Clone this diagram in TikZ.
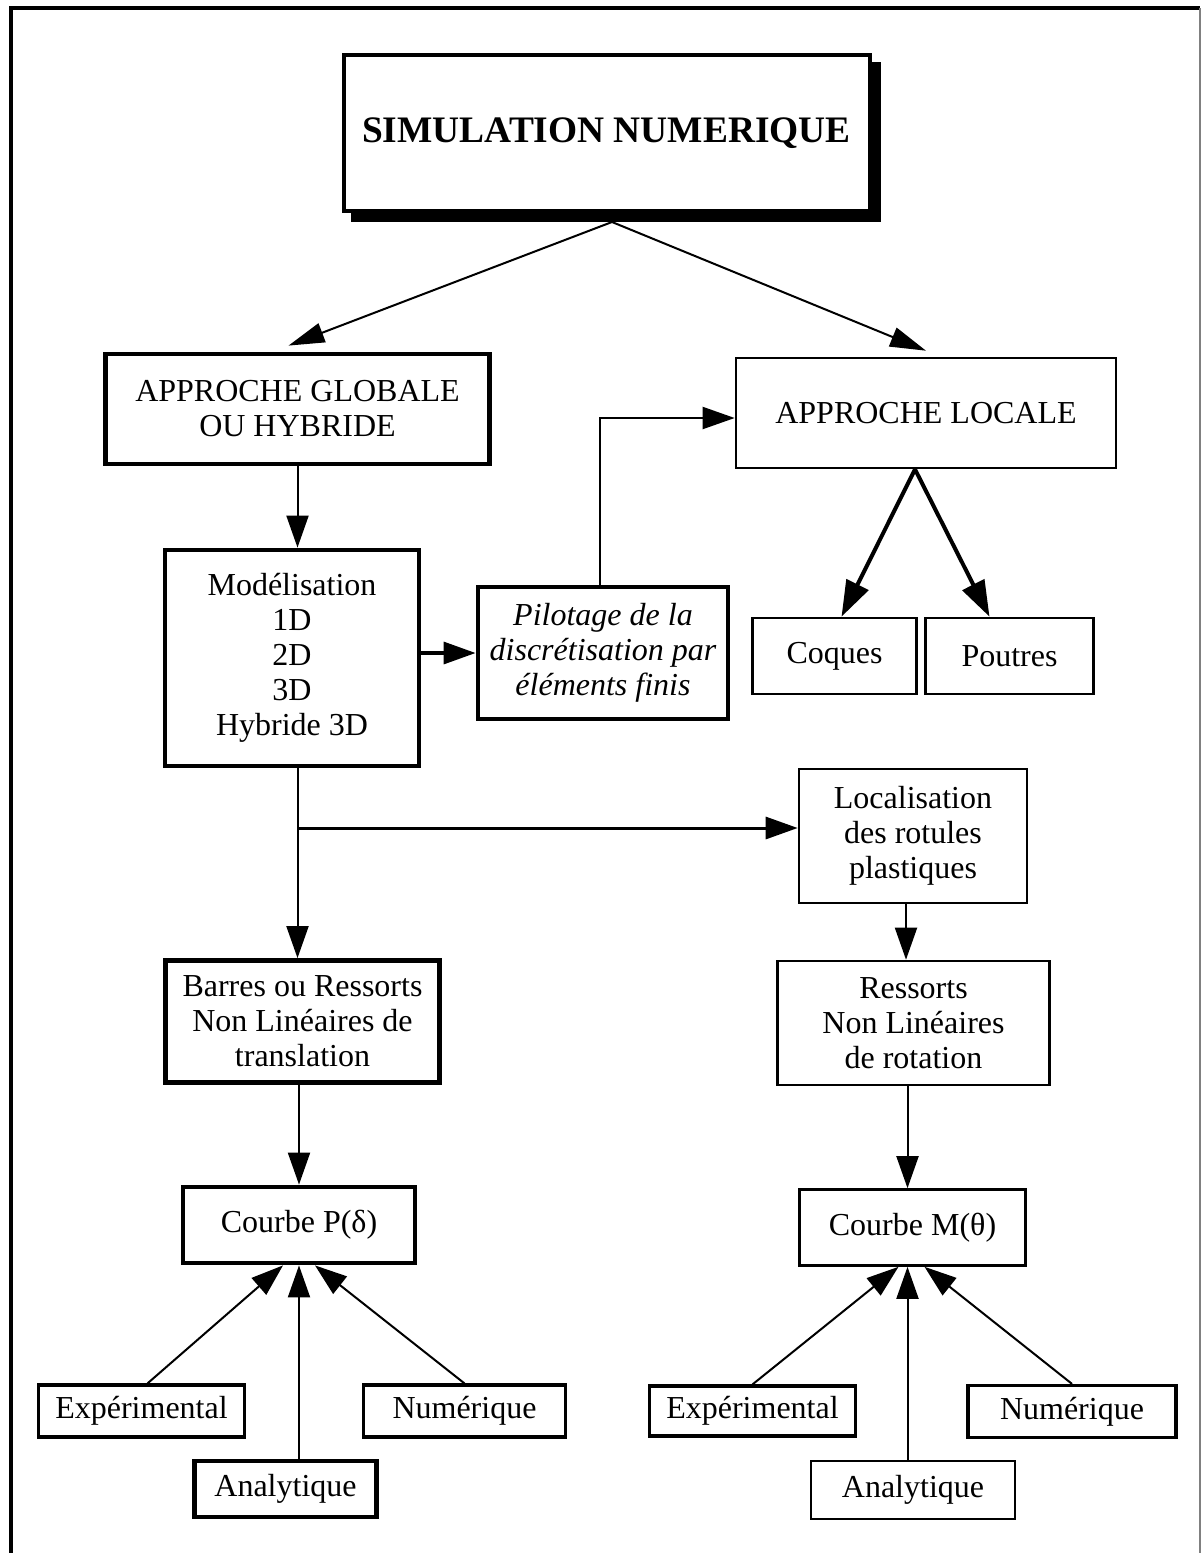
\documentclass[tikz,border=0pt]{standalone}
\usepackage{fontspec}
\setmainfont{Liberation Serif}
\usetikzlibrary{arrows.meta,backgrounds}
\begin{document}
\begin{tikzpicture}[x=0.5pt,y=-0.5pt,
  box/.style={draw, rectangle, fill=white, inner sep=0pt, align=center,
    font=\fontsize{16}{17.5}\selectfont},
  heavybox/.style={box, line width=2.4pt},
  lightbox/.style={box, line width=1.3pt},
  midbox/.style={box, line width=1.6pt},
  tip/.style={-{Triangle[length=16pt,width=11pt]}},
  conn/.style={line width=1pt, tip},
]
\useasboundingbox (0,0) rectangle (1202,1553);

% outer frame
\draw[line width=2pt] (11,1553) -- (11,8) -- (1200,8);
\draw[line width=0.7pt, gray] (1200,8) -- (1200,1553);

% title box with shadow
\node[box, line width=2pt, minimum width=263pt, minimum height=78pt,
  font=\fontsize{18.7}{20}\selectfont\bfseries] (sim) at (606.5,133) {SIMULATION NUMERIQUE};
\begin{scope}[on background layer]
  \fill ([shift={(9,9)}]sim.south west) rectangle ([shift={(9,9)}]sim.north east);
\end{scope}
\coordinate (simb) at (612,222);

\node[heavybox, minimum width=192pt, minimum height=55pt] (glob) at (297.5,409) {APPROCHE GLOBALE\\OU HYBRIDE};
\node[lightbox, minimum width=190pt, minimum height=55pt] (loc) at (926,413) {APPROCHE LOCALE};
\node[heavybox, minimum width=127pt, minimum height=108pt] (mod) at (292,658) {Modélisation\\1D\\2D\\3D\\Hybride 3D};
\node[heavybox, minimum width=125pt, minimum height=66pt, font=\fontsize{16}{17.5}\selectfont\itshape] (pil) at (603,653) {Pilotage de la\\discrétisation par\\éléments finis};
\node[lightbox, minimum width=82pt, minimum height=38pt] (coq) at (834.5,656) {Coques};
\node[lightbox, minimum width=84pt, minimum height=38pt] (pou) at (1009.5,656) {Poutres};
\node[lightbox, minimum width=114pt, minimum height=67pt] (locr) at (913,836) {Localisation\\des rotules\\plastiques};
\node[heavybox, minimum width=137pt, minimum height=61pt] (bar) at (302.5,1021.5) {Barres ou Ressorts\\Non Linéaires de\\translation};
\node[lightbox, minimum width=136pt, minimum height=62pt] (res) at (913.5,1023) {Ressorts\\Non Linéaires\\de rotation};
\node[heavybox, minimum width=116pt, minimum height=38pt] (cp) at (299,1225) {Courbe P(δ)};
\node[lightbox, minimum width=113pt, minimum height=38pt] (cm) at (912.5,1227.5) {Courbe M(θ)};
\node[midbox, minimum width=103pt, minimum height=26pt] (exl) at (141.5,1411) {Expérimental};
\node[midbox, minimum width=101pt, minimum height=26pt] (nul) at (464.5,1411) {Numérique};
\node[heavybox, minimum width=91pt, minimum height=28pt] (anl) at (285.5,1489) {Analytique};
\node[midbox, minimum width=103pt, minimum height=25pt] (exr) at (752.5,1411) {Expérimental};
\node[midbox, minimum width=104pt, minimum height=26pt] (nur) at (1072,1411.5) {Numérique};
\node[lightbox, minimum width=102pt, minimum height=29pt] (anr) at (913,1490) {Analytique};

% connectors
\draw[conn, -{Triangle[length=18pt,width=10pt]}] (simb) -- ([xshift=-4.5pt,yshift=3pt]glob.north);
\draw[conn, -{Triangle[length=18pt,width=10pt]}] (simb) -- ([yshift=3pt]loc.north);
\draw[conn] (glob.south) -- (glob.south |- mod.north);
\draw[conn, line width=1.6pt] (mod.east |- pil.west) -- (pil.west);
\draw[conn] ([xshift=-1.5pt]pil.north) |- ([yshift=-2.5pt]loc.west);
\draw[conn, line width=2pt, -{Triangle[length=18pt,width=12pt]}] ([xshift=-5.5pt]loc.south) -- ([xshift=3.5pt]coq.north);
\draw[conn, line width=2pt, -{Triangle[length=18pt,width=12pt]}] ([xshift=-5.5pt]loc.south) -- ([xshift=-10pt]pou.north);
\coordinate (br) at (298,828);
\draw[conn, line width=1.5pt] (br) -- (br -| locr.west);
\draw[conn] (glob.south |- mod.south) -- (glob.south |- bar.north);
\draw[conn] ([xshift=-3.5pt]locr.south) -- ([xshift=-3.5pt]locr.south |- res.north);
\draw[conn] (cp.north |- bar.south) -- (cp.north);
\draw[conn] ([xshift=-2.5pt]cm.north |- res.south) -- ([xshift=-2.5pt]cm.north);

\draw[conn] ([xshift=3pt]exl.north) -- ([xshift=-8pt]cp.south);
\draw[conn] (cp.south |- anl.north) -- (cp.south);
\draw[conn] (nul.north) -- ([xshift=8pt]cp.south);
\draw[conn] (exr.north) -- ([xshift=-7pt]cm.south);
\draw[conn] ([xshift=-2.5pt]cm.south |- anr.north) -- ([xshift=-2.5pt]cm.south);
\draw[conn] (nur.north) -- ([xshift=6pt]cm.south);
\end{tikzpicture}
\end{document}
